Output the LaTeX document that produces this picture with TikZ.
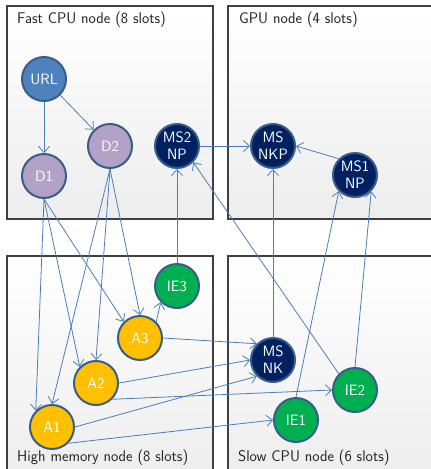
\documentclass[tikz,border=0pt]{standalone}
\usepackage{fontspec}
\usetikzlibrary{arrows.meta}
\definecolor{edgeblue}{HTML}{4A7EBB}
\definecolor{ringblue}{HTML}{385D8A}
\definecolor{urlfill}{HTML}{4F81BD}
\definecolor{dfill}{HTML}{B3A2C7}
\definecolor{msfill}{HTML}{002060}
\definecolor{iefill}{HTML}{00B050}
\definecolor{afill}{HTML}{FFC000}
\definecolor{boxline}{HTML}{404040}
\definecolor{boxbottom}{HTML}{EDEDED}
\begin{document}
\begin{tikzpicture}[x=1pt,y=-1pt,
  hostbox/.style={draw=boxline,line width=1.1pt,top color=white,bottom color=boxbottom},
  hostlabel/.style={anchor=west,inner sep=0pt,text=black!85,font=\sffamily\fontsize{15.5}{18}\selectfont},
  task/.style={circle,draw=ringblue,line width=2pt,minimum size=44pt,inner sep=0pt,
    text=white,align=center,font=\sffamily\fontsize{15}{17}\selectfont},
  urltask/.style={task,fill=urlfill},
  dtask/.style={task,fill=dfill},
  mstask/.style={task,fill=msfill},
  ietask/.style={task,fill=iefill},
  atask/.style={task,fill=afill},
  link/.style={draw=edgeblue,line width=0.8pt,-{Straight Barb[length=6pt,width=11pt]}}]
\useasboundingbox (0,0) rectangle (431,469);

% host machines
\draw[hostbox] (7,6) rectangle (213,219);
\draw[hostbox] (228,6) rectangle (440,219);
\draw[hostbox] (7,256) rectangle (213,480);
\draw[hostbox] (228,256) rectangle (440,480);
\node[hostlabel] (lfast) at (17,20) {Fast CPU node (8 slots)};
\node[hostlabel] (lgpu) at (239,20) {GPU node (4 slots)};
\node[hostlabel] (lmem) at (17,458) {High memory node (8 slots)};
\node[hostlabel] (lslow) at (238,458) {Slow CPU node (6 slots)};

% tasks
\node[urltask] (url) at (44,79) {URL};
\node[dtask] (d1) at (44,176) {D1};
\node[dtask] (d2) at (110,146) {D2};
\node[mstask] (ms2) at (177,146) {MS2\\NP};
\node[mstask] (msnkp) at (273,146) {MS\\NKP};
\node[mstask] (ms1) at (355,175) {MS1\\NP};
\node[ietask] (ie3) at (177,286) {IE3};
\node[atask] (a3) at (140,338) {A3};
\node[atask] (a2) at (96,383) {A2};
\node[atask] (a1) at (52,427) {A1};
\node[mstask] (msnk) at (273,360) {MS\\NK};
\node[ietask] (ie2) at (355,390) {IE2};
\node[ietask] (ie1) at (296,420) {IE1};

% dependencies
\draw[link] (url.south) -- (d1.north);
\draw[link] (url.south east) -- (d2.north west);
\draw[link] (d1.south) -- (a1.north west);
\draw[link] (d1.south) -- (a2.north west);
\draw[link] (d1.south) -- (a3.north west);
\draw[link] (d2.south) -- (a1.north);
\draw[link] (d2.south) -- (a2.north);
\draw[link] (d2.south) -- (a3.north);
\draw[link] (a3.north east) -- (ie3.south west);
\draw[link] (ie3.north) -- (ms2.south);
\draw[link] (a3.east) -- (msnk.north west);
\draw[link] (a2.east) -- (msnk.west);
\draw[link] (a1.east) -- (msnk.south west);
\draw[link] (a2.south east) -- (ie2.west);
\draw[link] (a1.south east) -- (ie1.west);
\draw[link] (ie2.north west) -- (ms2.south east);
\draw[link] (ie2.north) -- (ms1.south east);
\draw[link] (ie1.north) -- (ms1.south west);
\draw[link] (msnk.north) -- (msnkp.south);
\draw[link] (ms1.north west) -- (msnkp.east);
\draw[link] (ms2.east) -- (msnkp.west);
\end{tikzpicture}
\end{document}
